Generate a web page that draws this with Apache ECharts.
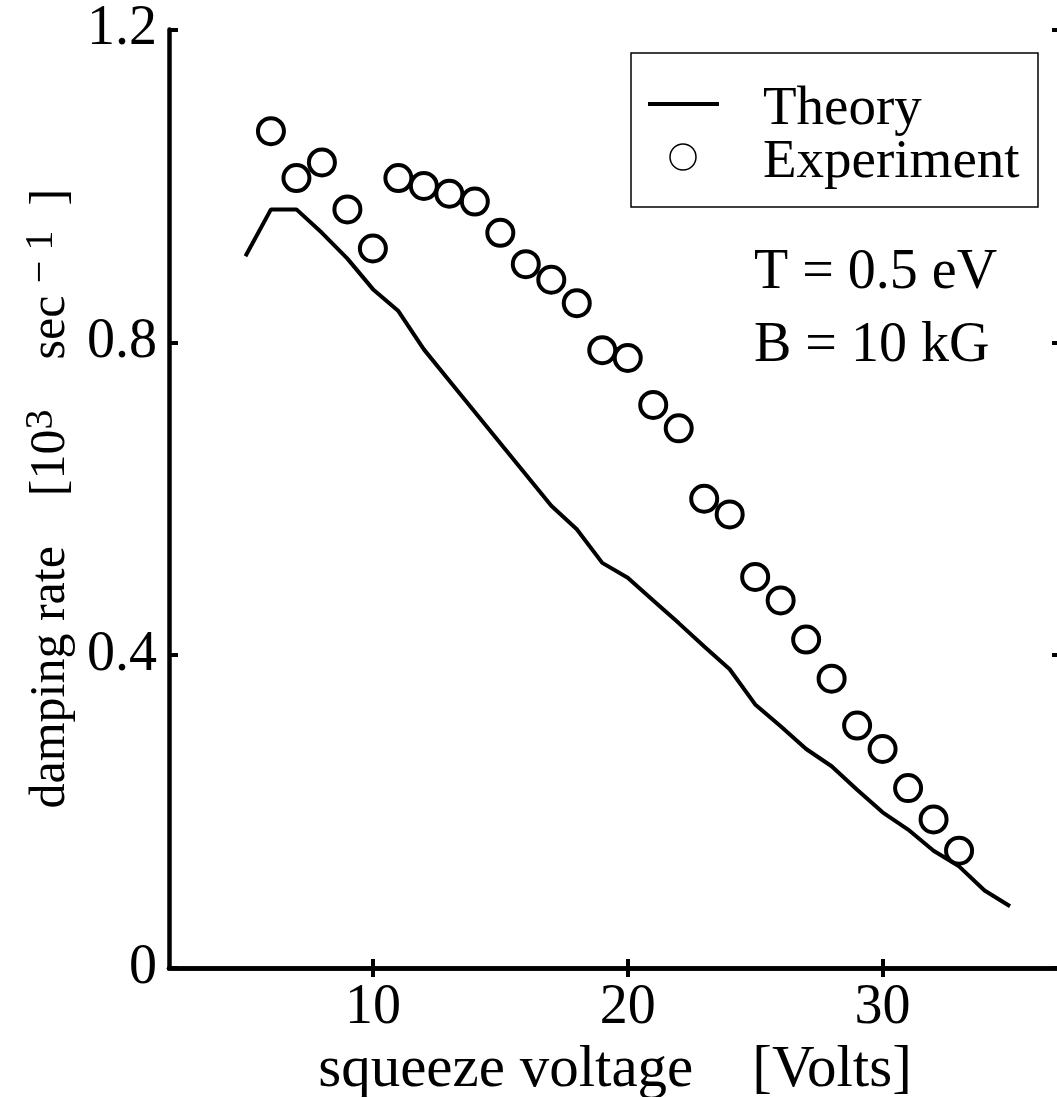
<!DOCTYPE html>
<html>
<head>
<meta charset="utf-8">
<script src="https://cdn.jsdelivr.net/npm/echarts@6/dist/echarts.min.js"></script>
<style>
  html, body { margin: 0; padding: 0; background: #fff; }
  #chart { width: 1057px; height: 1097px; }
</style>
</head>
<body>
<div id="chart"></div>
<script>
const xTickValues = [10, 20, 30];
const yTickValues = [0, 0.4, 0.8, 1.2];

const theoryX = [5, 6, 7, 8, 9, 10, 11, 12, 13, 14, 15, 16, 17, 18, 19, 20,
                 21, 22, 23, 24, 25, 26, 27, 28, 29, 30, 31, 32, 33, 34, 35];
const theoryY = [0.91, 0.97, 0.97, 0.94, 0.907, 0.868, 0.840, 0.791, 0.751, 0.711, 0.671, 0.631,
                 0.591, 0.561, 0.518, 0.499, 0.470, 0.441, 0.411, 0.382, 0.337, 0.309,
                 0.280, 0.258, 0.228, 0.199, 0.177, 0.150, 0.130, 0.099, 0.079];

const expX = [6, 7, 8, 9, 10, 11, 12, 13, 14, 15, 16, 17, 18, 19, 20,
              21, 22, 23, 24, 25, 26, 27, 28, 29, 30, 31, 32, 33];
const expY = [1.07, 1.01, 1.03, 0.97, 0.92, 1.01, 1.00, 0.99, 0.98, 0.94, 0.90, 0.88, 0.85, 0.79,
              0.78, 0.72, 0.69, 0.60, 0.58, 0.50, 0.47, 0.42, 0.37, 0.31, 0.28, 0.23, 0.19, 0.15];

const seriesNames = ['Theory', 'Experiment'];
const annotations = ['T = 0.5 eV', 'B = 10 kG'];

const F = '"Liberation Serif", "Times New Roman", Times, serif';
const zip = (xs, ys) => xs.map((x, i) => [x, ys[i]]);

const chart = echarts.init(document.getElementById('chart'), null, { renderer: 'canvas' });

const axisLine = { show: true, lineStyle: { color: '#000', width: 4.5 } };
const tickIn = { show: true, inside: true, length: 9, lineStyle: { color: '#000', width: 4 } };

chart.setOption({
  animation: false,
  backgroundColor: '#fff',
  grid: { left: 169, top: 29.5, width: 892, height: 938.5, outerBoundsMode: 'none', containLabel: false },
  xAxis: [
    {
      type: 'value', position: 'bottom', min: 2, max: 37,
      axisLine: axisLine,
      axisTick: Object.assign({}, tickIn, { customValues: xTickValues }),
      axisLabel: { show: true, customValues: xTickValues, margin: 12,
        fontFamily: F, fontSize: 56, color: '#000' },
      splitLine: { show: false },
      name: 'squeeze voltage    [Volts]', nameLocation: 'middle', nameGap: 54,
      nameTextStyle: { fontFamily: F, fontSize: 59, color: '#000' }
    },
    {
      type: 'value', position: 'top', min: 2, max: 37,
      axisLine: axisLine,
      axisTick: Object.assign({}, tickIn, { customValues: xTickValues }),
      axisLabel: { show: false },
      splitLine: { show: false }
    }
  ],
  yAxis: [
    {
      type: 'value', position: 'left', min: 0, max: 1.2, interval: 0.4,
      axisLine: axisLine,
      axisTick: tickIn,
      axisLabel: { show: true, margin: 12, fontFamily: F, fontSize: 56, color: '#000',
        formatter: v => (Math.abs(v) < 1e-9 ? '0' : (Math.round(v * 10) / 10).toFixed(1)) },
      splitLine: { show: false },
      name: '{a|damping rate    [10}{s|3}{a|    sec }{s|− 1}{a|  ]}',
      nameLocation: 'middle', nameGap: 74, nameRotate: 90,
      nameTextStyle: {
        rich: {
          a: { fontFamily: F, fontSize: 50, color: '#000', lineHeight: 60 },
          s: { fontFamily: F, fontSize: 40, color: '#000', lineHeight: 40, verticalAlign: 'top' }
        }
      }
    },
    {
      type: 'value', position: 'right', min: 0, max: 1.2, interval: 0.4,
      axisLine: axisLine,
      axisTick: tickIn,
      axisLabel: { show: false },
      splitLine: { show: false }
    }
  ],
  graphic: [
    { type: 'rect', silent: true, z: 10,
      shape: { x: 631, y: 53, width: 407, height: 154 },
      style: { fill: '#fff', stroke: '#000', lineWidth: 1.5 } },
    { type: 'line', silent: true, z: 11,
      shape: { x1: 648, y1: 104, x2: 719, y2: 104 },
      style: { stroke: '#000', lineWidth: 4 } },
    { type: 'circle', silent: true, z: 11,
      shape: { cx: 683, cy: 157, r: 13 },
      style: { fill: '#fff', stroke: '#000', lineWidth: 1.5 } },
    { type: 'text', silent: true, z: 11, x: 763, y: 110,
      style: { text: seriesNames[0], fontFamily: F, fontSize: 55, fill: '#000', verticalAlign: 'middle' } },
    { type: 'text', silent: true, z: 11, x: 763, y: 163,
      style: { text: seriesNames[1], fontFamily: F, fontSize: 55, fill: '#000', verticalAlign: 'middle' } },
    { type: 'text', left: 754, top: 245, silent: true,
      style: { text: annotations[0], fontFamily: F, fontSize: 56, fill: '#000' } },
    { type: 'text', left: 754, top: 318, silent: true,
      style: { text: annotations[1], fontFamily: F, fontSize: 56, fill: '#000' } }
  ],
  series: [
    {
      name: seriesNames[0], type: 'line', xAxisIndex: 0, yAxisIndex: 0,
      data: zip(theoryX, theoryY), showSymbol: false, symbol: 'none',
      lineStyle: { color: '#000', width: 4 }, itemStyle: { color: '#000' },
      z: 2, silent: true
    },
    {
      name: seriesNames[1], type: 'scatter', xAxisIndex: 0, yAxisIndex: 0,
      data: zip(expX, expY), symbol: 'circle', symbolSize: 26,
      itemStyle: { color: 'rgba(255,255,255,0)', borderColor: '#000', borderWidth: 4, opacity: 1 },
      z: 3, silent: true
    }
  ]
});
</script>
</body>
</html>
